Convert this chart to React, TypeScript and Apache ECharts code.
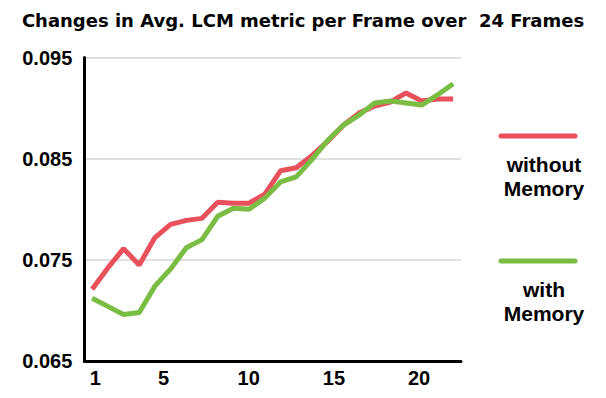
import React, { useEffect, useRef } from "react";
import * as echarts from "echarts";

const titleText = "Changes in Avg. LCM metric per Frame over  24 Frames";
const frames = Array.from({ length: 24 }, (_, i) => String(i + 1));
const xTickLabels = [1, 5, 10, 15, 20];
const yTickValues = [0.065, 0.075, 0.085, 0.095];
const seriesNames = ["without Memory", "with Memory"];
const legendLines = [["without", "Memory"], ["with", "Memory"]];
const withoutMemory = [
  0.0721, 0.0742, 0.0761, 0.0745, 0.0772, 0.0785, 0.0789, 0.0791, 0.0807, 0.0806,
  0.0806, 0.0815, 0.0838, 0.0841, 0.0853, 0.0867, 0.0883, 0.0895, 0.0902, 0.0906,
  0.0915, 0.0907, 0.0909, 0.0909,
];
const withMemory = [
  0.0712, 0.0704, 0.0696, 0.0698, 0.0724, 0.0741, 0.0762, 0.0770, 0.0793, 0.0801,
  0.0800, 0.0811, 0.0827, 0.0832, 0.0849, 0.0868, 0.0883, 0.0893, 0.0905, 0.0907,
  0.0905, 0.0903, 0.0913, 0.0924,
];
const colors = ["#E8505C", "#79BD43"];

export default function App() {
  const ref = useRef<HTMLDivElement>(null);
  useEffect(() => {
    const chart = echarts.init(ref.current!, null, { renderer: "svg" });
    const labelFont = "Liberation Sans";
    const legendY = [136, 261];
    const graphic: any[] = [
      {
        type: "text",
        x: 303,
        y: 20,
        style: {
          text: titleText,
          fontFamily: "DejaVu Sans",
          fontWeight: "bold",
          fontSize: 18,
          fill: "#000",
          align: "center",
          verticalAlign: "middle",
        },
      },
    ];
    seriesNames.forEach((_, i) => {
      graphic.push({
        type: "line",
        shape: { x1: 501, y1: legendY[i], x2: 575, y2: legendY[i] },
        style: { stroke: colors[i], lineWidth: 5, lineCap: "round" },
      });
      legendLines[i].forEach((t, j) => {
        graphic.push({
          type: "text",
          x: 544,
          y: legendY[i] + 28.5 + j * 23.5,
          style: {
            text: t,
            fontFamily: labelFont,
            fontWeight: "bold",
            fontSize: 21,
            fill: "#000",
            align: "center",
            verticalAlign: "middle",
          },
        });
      });
    });
    chart.setOption({
      animation: false,
      grid: { left: 84.3, right: 145, top: 57.5, bottom: 37, containLabel: false },
      xAxis: [
        {
          type: "category",
          data: frames,
          boundaryGap: true,
          show: false,
        },
        {
          type: "value",
          position: "bottom",
          min: 0.35,
          max: 22.46,
          axisLine: { show: true, onZero: false, lineStyle: { color: "#000", width: 3 } },
          axisTick: { show: false, customValues: xTickLabels },
          splitLine: { show: false },
          axisLabel: {
            customValues: xTickLabels,
            color: "#000",
            fontFamily: labelFont,
            fontWeight: "bold",
            fontSize: 20,
            margin: 7,
          },
        },
      ],
      yAxis: {
        type: "value",
        min: 0.065,
        max: 0.095,
        axisLine: { show: true, lineStyle: { color: "#000", width: 3 } },
        axisTick: { show: false, customValues: yTickValues },
        splitLine: { show: true, lineStyle: { color: "#e0e0e0", width: 2 } },
        axisLabel: {
          customValues: yTickValues,
          color: "#000",
          fontFamily: labelFont,
          fontWeight: "bold",
          fontSize: 20,
          margin: 12,
          formatter: (v: number) => v.toFixed(3),
        },
      },
      series: [
        {
          name: seriesNames[0],
          type: "line",
          xAxisIndex: 0,
          data: withoutMemory,
          symbol: "none",
          lineStyle: { color: colors[0], width: 5 },
          itemStyle: { color: colors[0] },
          z: 2,
        },
        {
          name: seriesNames[1],
          type: "line",
          xAxisIndex: 0,
          data: withMemory,
          symbol: "none",
          lineStyle: { color: colors[1], width: 5 },
          itemStyle: { color: colors[1] },
          z: 3,
        },
      ],
      graphic,
    });
    return () => chart.dispose();
  }, []);
  return (
    <div
      ref={ref}
      style={{ position: "fixed", left: 0, top: 0, width: 606, height: 398, background: "#fff" }}
    />
  );
}
